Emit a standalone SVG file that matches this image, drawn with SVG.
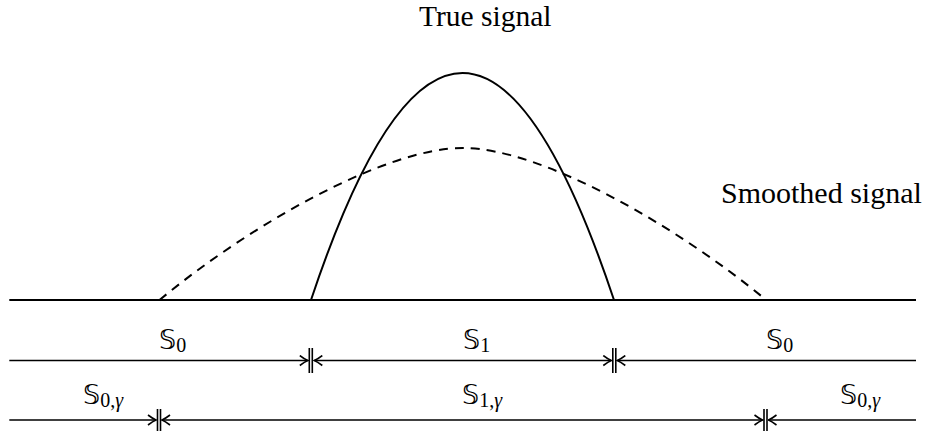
<svg xmlns="http://www.w3.org/2000/svg" width="933" height="435" viewBox="0 0 933 435">
<style>
  .ln{fill:none;stroke:#000;stroke-width:2}
  .dim{fill:none;stroke:#000;stroke-width:1.6}
  .bar{fill:none;stroke:#000;stroke-width:1.6}
  .dash{stroke-dasharray:9 7}
  .t{font-family:'Liberation Serif','DejaVu Serif','Times New Roman',serif;font-size:30px;fill:#000}
  .bb{font-family:'DejaVu Sans',sans-serif;font-size:27px}
  .sub{font-family:'Liberation Serif','DejaVu Serif','Times New Roman',serif;font-size:20px}
</style>
<defs>
  <marker id="ah" markerUnits="userSpaceOnUse" viewBox="-9 -6 10 12" refX="0" refY="0" markerWidth="10" markerHeight="12" orient="auto-start-reverse">
    <path d="M-8,-5 Q-3,-1.2 0,0 Q-3,1.2 -8,5" fill="none" stroke="#000" stroke-width="1.6"/>
  </marker>
</defs>
<g id="baseline"><path class="ln" d="M9.3,300 H916"/></g>
<g id="true-signal"><path class="ln" d="M311,300 Q462.5,-154 614,300"/></g>
<g id="smoothed-signal"><path class="ln dash" d="M159.5,300 C250,225 385,148 462.8,148 C540.6,148 675.6,225 766.1,300"/></g>
<g id="labels">
  <text class="t" x="419" y="26" style="font-size:29.5px">True signal</text>
  <text class="t" x="721" y="203">Smoothed signal</text>
</g>
<g id="connectors">
  <path class="dim" d="M9.3,360.5 H307.8" marker-end="url(#ah)"/>
  <path class="dim" d="M314.3,360.5 H611.3" marker-start="url(#ah)" marker-end="url(#ah)"/>
  <path class="dim" d="M617.3,360.5 H916" marker-start="url(#ah)"/>
  <path class="bar" d="M309.3,348 V373 M312.3,348 V373 M612.8,348 V373 M615.8,348 V373"/>
  <path class="dim" d="M9.3,420 H156" marker-end="url(#ah)"/>
  <path class="dim" d="M162,420 H762.5" marker-start="url(#ah)" marker-end="url(#ah)"/>
  <path class="dim" d="M768.5,420 H916" marker-start="url(#ah)"/>
  <path class="bar" d="M157.5,409 V431 M160.5,409 V431 M764,409 V431 M767,409 V431"/>
</g>
<g id="set-labels">
  <text class="t" x="159" y="349"><tspan class="bb">𝕊</tspan><tspan class="sub" dy="3">0</tspan></text>
  <text class="t" x="463" y="349"><tspan class="bb">𝕊</tspan><tspan class="sub" dy="3">1</tspan></text>
  <text class="t" x="766" y="349"><tspan class="bb">𝕊</tspan><tspan class="sub" dy="3">0</tspan></text>
  <text class="t" x="83" y="403.5"><tspan class="bb">𝕊</tspan><tspan class="sub" dy="3">0,<tspan font-style="italic">γ</tspan></tspan></text>
  <text class="t" x="462" y="403.5"><tspan class="bb">𝕊</tspan><tspan class="sub" dy="3">1,<tspan font-style="italic">γ</tspan></tspan></text>
  <text class="t" x="840" y="403.5"><tspan class="bb">𝕊</tspan><tspan class="sub" dy="3">0,<tspan font-style="italic">γ</tspan></tspan></text>
</g>
</svg>
